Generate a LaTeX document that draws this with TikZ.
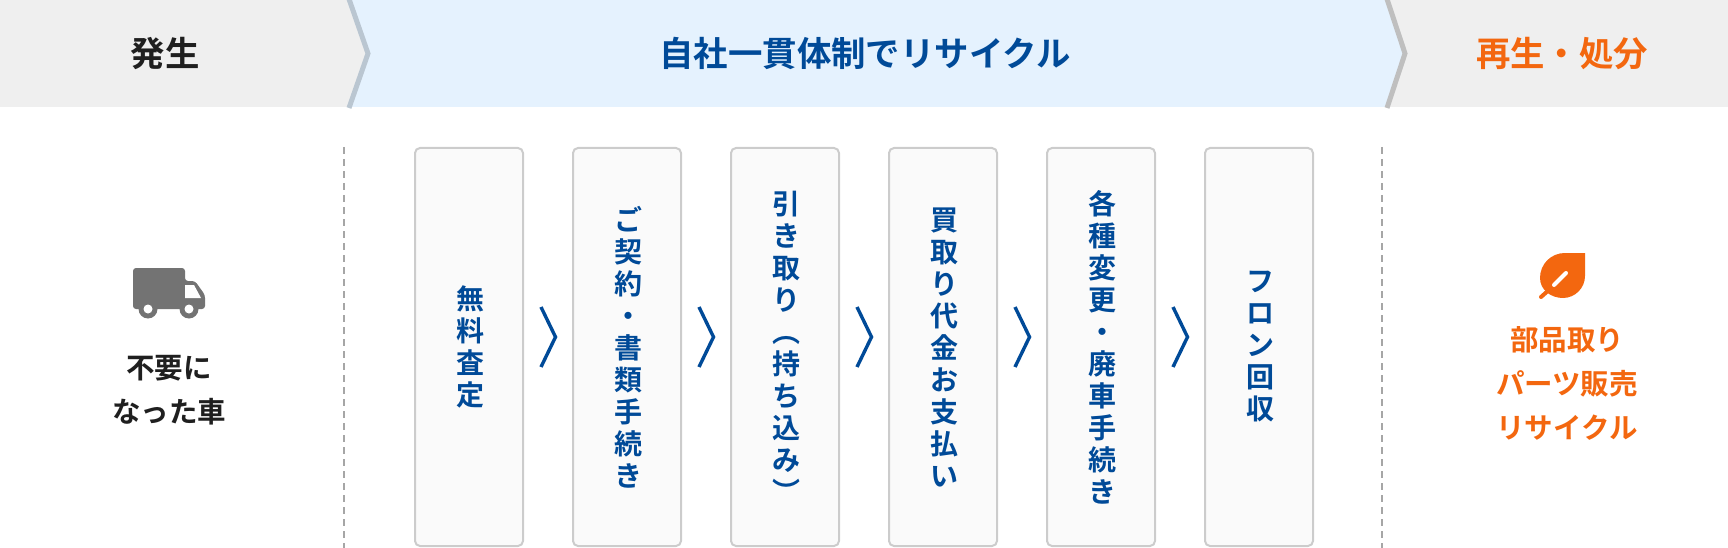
\documentclass[tikz,border=0pt]{standalone}
\usepackage{fontspec}
\setmainfont{Noto Sans CJK JP}[BoldFont={* Bold}]
\usetikzlibrary{positioning}
\definecolor{headgray}{HTML}{EFEFEF}
\definecolor{headblue}{HTML}{E5F2FE}
\definecolor{navy}{HTML}{004A98}
\definecolor{leaforange}{HTML}{F3670F}
\definecolor{edgeblue}{HTML}{BAC6D1}
\tikzset{
  head/.style={font=\bfseries\fontsize{34.4}{34}\selectfont,inner sep=0pt},
  stepbox/.style={draw=black!20,line width=2pt,fill=black!2,rounded corners=5pt,minimum width=108pt,minimum height=398pt,inner sep=0pt},
  steptext/.style={font=\bfseries\fontsize{28}{32}\selectfont,text=navy,align=center,inner sep=0pt,xshift=1pt},
  side/.style={font=\bfseries\fontsize{28.5}{44}\selectfont,align=center,inner sep=0pt},
  chev/.style={draw=navy,line width=3.4pt,line cap=butt,line join=miter},
  divider/.style={draw=black!35,line width=1.5pt,dash pattern=on 7pt off 5pt},
}
\begin{document}
\begin{tikzpicture}[x=1pt,y=-1pt]
\useasboundingbox (0,0) rectangle (1728,548);
\fill[headgray] (0,0) rectangle (1728,107);
\fill[headblue] (350,0)--(1385,0)--(1404,53.5)--(1385,107)--(350,107)--(368,53.5)--cycle;
\draw[line width=5pt,draw=edgeblue] (349,-1)--(368,53.5)--(349,108);
\draw[line width=5pt,draw=black!25] (1387,-1)--(1405,53.5)--(1387,108);
\node[head,text=black!88] (hassei) at (165,53.5) {発生};
\node[head,text=navy] (ikkan) at (865,53.5) {自社一貫体制でリサイクル};
\node[head,text=leaforange] (saisei) at (1562,53.5) {再生・処分};
\draw[divider] (344,147)--(344,548);
\draw[divider] (1382,147)--(1382,548);
\foreach \x/\n/\t in {469/mu/{無\\料\\査\\定},
  627/kei/{ご\\契\\約\\・\\書\\類\\手\\続\\き},
  785/hiki/{引\\き\\取\\り\\︵\\持\\ち\\込\\み\\︶},
  943/kai/{買\\取\\り\\代\\金\\お\\支\\払\\い},
  1101/hen/{各\\種\\変\\更\\・\\廃\\車\\手\\続\\き},
  1259/fu/{フ\\ロ\\ン\\回\\収}}{
  \node[stepbox] (\n) at (\x,347) {};
  \node[steptext] at (\n.center) {\t};
}
\foreach \x in {541,699,857,1015,1173}
  \draw[chev] (\x,307)--(\x+14.5,337)--(\x,367);
% truck
\fill[black!55,rounded corners=3pt] (133,268)--(185,268)--(185,281)--(195,281)--(205,295)--(205,309)--(133,309)--cycle;
\fill[white] (185,285)--(194,285)--(201,298)--(185,298)--cycle;
\foreach \x in {148,189}{
  \fill[black!55] (\x,309) circle (9.5pt);
  \fill[white] (\x,309) circle (4.5pt);
}
\node[side,text=black!88] (fuyo) at (169,390) {不要に\\なった車};
% leaf
\fill[leaforange] (1585,253) -- (1565,253) .. controls (1551,253) and (1540,264) .. (1540,278) .. controls (1540,290) and (1551,298) .. (1563,298) .. controls (1575,298) and (1585,288) .. (1585,276) -- cycle;
\draw[leaforange,line width=4pt,line cap=round] (1550,289)--(1541,297);
\draw[white,line width=4pt,line cap=round] (1554,285)--(1566,273);
\node[side,text=leaforange] (buhin) at (1567,383) {部品取り\\パーツ販売\\リサイクル};
\end{tikzpicture}
\end{document}
